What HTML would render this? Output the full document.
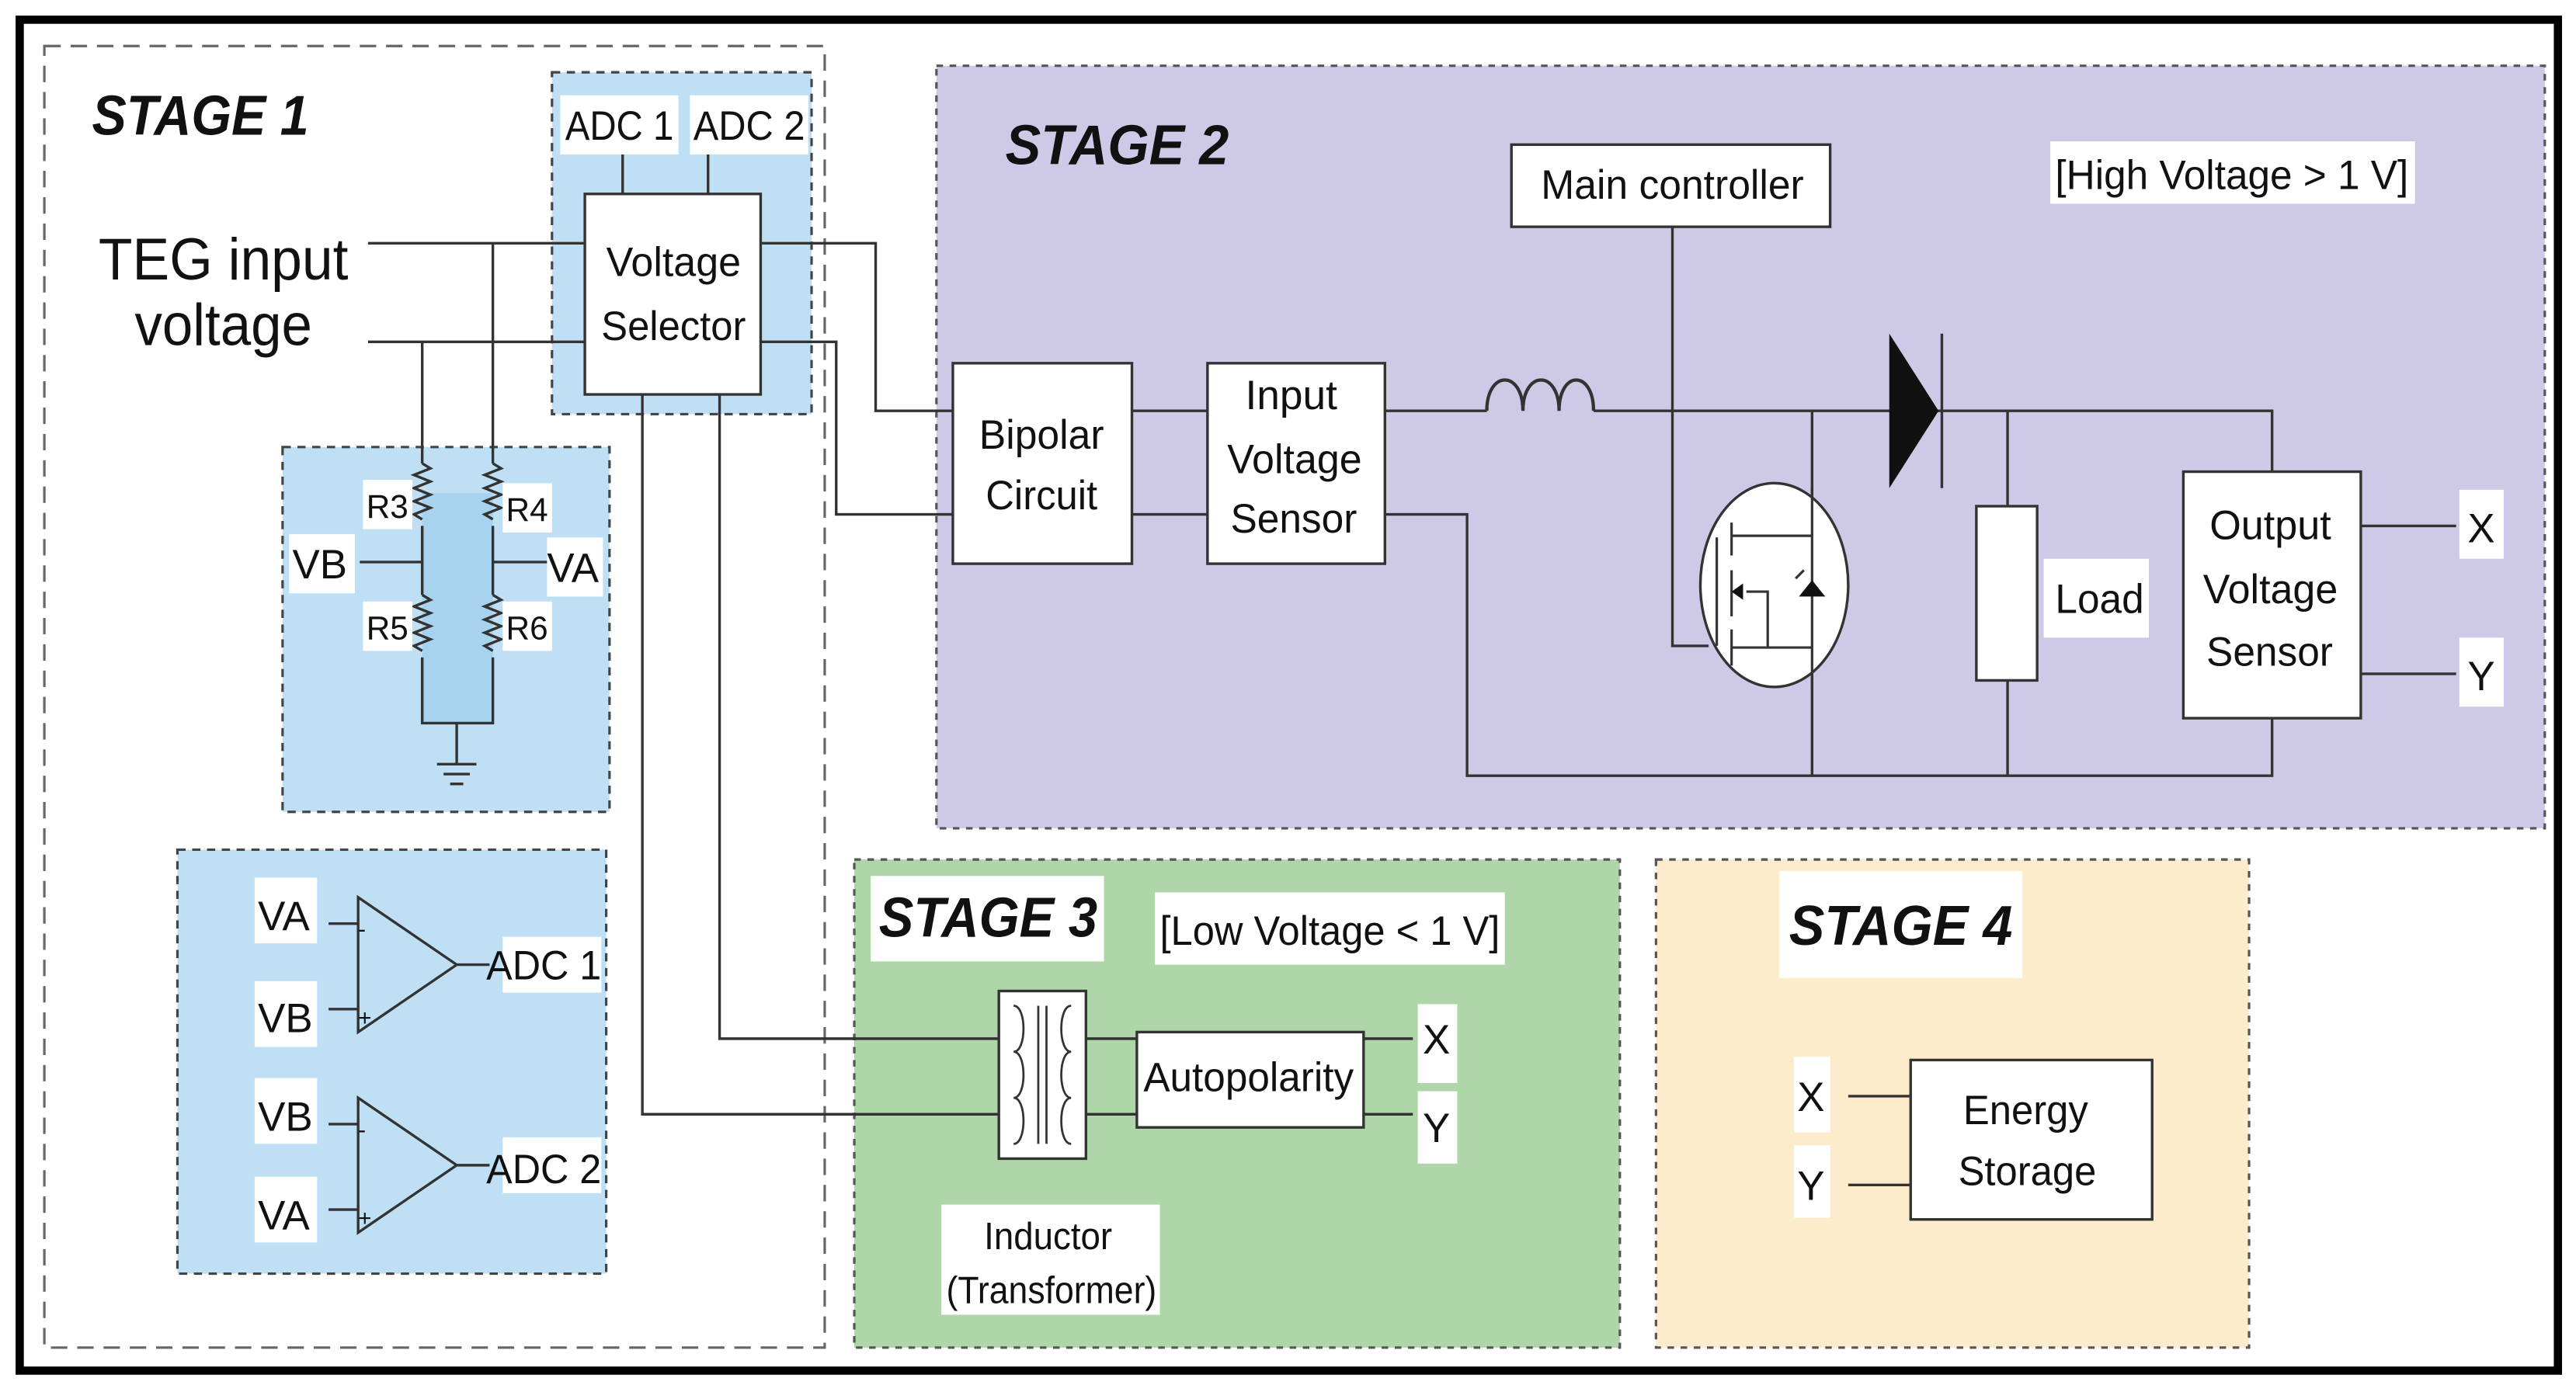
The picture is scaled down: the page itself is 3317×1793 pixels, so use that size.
<!DOCTYPE html>
<html><head><meta charset="utf-8"><style>
html,body{margin:0;padding:0;background:#fff;}
svg{display:block;}
text{font-family:"Liberation Sans",sans-serif;fill:#111;}
.st{font-weight:bold;font-style:italic;font-size:34px;}
.lb{font-size:25px;}
</style></head><body>
<svg width="3317" height="1793" viewBox="0 0 1568 847" preserveAspectRatio="none" xmlns="http://www.w3.org/2000/svg">
<rect x="0" y="0" width="1568" height="847" fill="#fff"/>
<rect x="570" y="40" width="979" height="464" fill="#cdc9e6" stroke="#555" stroke-width="1.5" stroke-dasharray="4,4"/>
<rect x="520" y="523" width="466" height="297" fill="#aed6a8" stroke="#555" stroke-width="1.5" stroke-dasharray="4,4"/>
<rect x="1008" y="523" width="361" height="297" fill="#fdeccb" stroke="#555" stroke-width="1.5" stroke-dasharray="4,4"/>
<rect x="27" y="28" width="475" height="792" fill="none" stroke="#666" stroke-width="1.5" stroke-dasharray="10,6"/>
<rect x="336" y="44" width="158" height="208" fill="#bfe0f4" stroke="#444" stroke-width="1.5" stroke-dasharray="5,4"/>
<rect x="172" y="272" width="199" height="222" fill="#bfe0f4" stroke="#444" stroke-width="1.5" stroke-dasharray="5,4"/>
<rect x="108" y="517" width="261" height="258" fill="#bfe0f4" stroke="#444" stroke-width="1.5" stroke-dasharray="5,4"/>
<rect x="257" y="300" width="43" height="140" fill="#a8d3ee"/>
<rect x="12" y="12" width="1545" height="822" fill="none" stroke="#000" stroke-width="5"/>

<g stroke="#333" stroke-width="1.6" fill="none">
<path d="M224 148H356M224 208H356"/>
<path d="M300 148V282M300 320V362M300 400V440H257V400M257 362V320M257 282V208"/>
<path d="M300 282l5 3-10 4 10 4-10 4 10 4-10 4 10 4-10 4 5 3M300 362l5 3-10 4 10 4-10 4 10 4-10 4 10 4-10 4 5 3"/>
<path d="M257 282l5 3-10 4 10 4-10 4 10 4-10 4 10 4-10 4 5 3M257 362l5 3-10 4 10 4-10 4 10 4-10 4 10 4-10 4 5 3"/>
<path d="M219 342H257M300 342H333M278 440V465M266 465H290M270 471H286M274 477H282"/>
<path d="M379 94V118M431 94V118"/>
<path d="M463 148H533V250H580M463 208H509V313H580"/>
<path d="M438 240V632H608M391 240V678H608"/>
<path d="M218 546V628L278 587Z M200 562H218M200 614H218M278 587H298"/>
<path d="M218 668V750L278 709Z M200 684H218M200 736H218M278 709H298"/>
<path d="M689 250H735M689 313H735M843 250H905M970 250H1383V287M843 313H893V472H1383V437"/>
<path d="M905 250c0-25 22-25 22 0c0-25 22-25 22 0c0-25 21-25 21 0" stroke-width="2"/>
<path d="M1018 138V393H1040M1103 250V472M1222 250V472"/>
<path d="M1437 320H1495M1437 410H1495"/>
<path d="M661 632H692M661 678H692M830 632H860M830 678H860"/>
<path d="M1125 667H1163M1125 721H1163"/>
</g>
<text x="218" y="570" style="font-size:14px">-</text><text x="218" y="624" style="font-size:14px">+</text>
<text x="218" y="692" style="font-size:14px">-</text><text x="218" y="746" style="font-size:14px">+</text>
<path d="M1150 203L1180 250L1150 297Z" fill="#111"/>
<path d="M1182 203V297" stroke="#333" stroke-width="1.6"/>
<ellipse cx="1080" cy="356" rx="45" ry="62" fill="#fff" stroke="#333" stroke-width="1.6"/>
<g stroke="#333" stroke-width="1.5" fill="none">
<path d="M1045 327V393M1054 318V338M1054 347V375M1054 383V405M1054 326H1103M1054 394H1103M1063 360H1076V394M1103 296V420"/>
<path d="M1093 352l5-5"/>
</g>
<path d="M1054 360l7-5v10z" fill="#111"/><path d="M1095 363h16l-8-10z" fill="#111"/>
<g fill="#fff">
<rect x="221" y="292" width="30" height="30"/><rect x="306" y="294" width="30" height="30"/>
<rect x="221" y="366" width="30" height="30"/><rect x="306" y="366" width="30" height="30"/>
<rect x="176" y="325" width="40" height="36"/><rect x="333" y="327" width="34" height="36"/>
<rect x="155" y="534" width="38" height="40"/><rect x="155" y="597" width="38" height="40"/>
<rect x="155" y="656" width="38" height="40"/><rect x="155" y="716" width="38" height="40"/>
<rect x="306" y="570" width="60" height="34"/><rect x="306" y="692" width="60" height="34"/>
<rect x="341" y="58" width="72" height="36"/><rect x="420" y="58" width="72" height="36"/>
<rect x="356" y="118" width="107" height="122" stroke="#333" stroke-width="1.6"/>
<rect x="580" y="221" width="109" height="122" stroke="#333" stroke-width="1.6"/>
<rect x="735" y="221" width="108" height="122" stroke="#333" stroke-width="1.6"/>
<rect x="920" y="88" width="194" height="50" stroke="#333" stroke-width="1.6"/>
<rect x="1248" y="86" width="222" height="38"/>
<rect x="1203" y="308" width="37" height="106" stroke="#333" stroke-width="1.6"/>
<rect x="1244" y="340" width="64" height="48"/>
<rect x="1329" y="287" width="108" height="150" stroke="#333" stroke-width="1.6"/>
<rect x="1497" y="298" width="27" height="42"/><rect x="1497" y="388" width="27" height="42"/>
<rect x="530" y="533" width="142" height="52"/><rect x="703" y="543" width="213" height="44"/>
<rect x="608" y="603" width="53" height="102" stroke="#333" stroke-width="1.6"/>
<rect x="692" y="628" width="138" height="58" stroke="#333" stroke-width="1.6"/>
<rect x="863" y="611" width="24" height="48"/><rect x="863" y="664" width="24" height="44"/>
<rect x="573" y="733" width="133" height="67"/>
<rect x="1083" y="530" width="148" height="65"/>
<rect x="1092" y="643" width="22" height="46"/><rect x="1092" y="697" width="22" height="44"/>
<rect x="1163" y="645" width="147" height="97" stroke="#333" stroke-width="1.6"/>
</g>
<g stroke="#333" stroke-width="1.3" fill="none">
<path d="M617 612c8 0 8 28 0 28c8 0 8 28 0 28c8 0 8 28 0 28M652 612c-8 0-8 28 0 28c-8 0-8 28 0 28c-8 0-8 28 0 28M632 612V696M637 612V696"/>
</g>
<text class="st" x="56" y="82" textLength="132" lengthAdjust="spacingAndGlyphs">STAGE 1</text>
<text class="st" x="612" y="100" textLength="136" lengthAdjust="spacingAndGlyphs">STAGE 2</text>
<text class="st" x="535" y="570" textLength="133" lengthAdjust="spacingAndGlyphs">STAGE 3</text>
<text class="st" x="1089" y="575" textLength="136" lengthAdjust="spacingAndGlyphs">STAGE 4</text>
<text x="60" y="170" style="font-size:36px" textLength="152" lengthAdjust="spacingAndGlyphs">TEG input</text>
<text x="82" y="210" style="font-size:36px" textLength="108" lengthAdjust="spacingAndGlyphs">voltage</text>
<text class="lb" x="344" y="85" textLength="66" lengthAdjust="spacingAndGlyphs">ADC 1</text><text class="lb" x="422" y="85" textLength="68" lengthAdjust="spacingAndGlyphs">ADC 2</text>
<text class="lb" x="369" y="168" textLength="82" lengthAdjust="spacingAndGlyphs">Voltage</text><text class="lb" x="366" y="207" textLength="88" lengthAdjust="spacingAndGlyphs">Selector</text>
<text x="223" y="315" style="font-size:20px">R3</text><text x="308" y="317" style="font-size:20px">R4</text>
<text x="223" y="389" style="font-size:20px">R5</text><text x="308" y="389" style="font-size:20px">R6</text>
<text class="lb" x="178" y="352">VB</text><text class="lb" x="333" y="354">VA</text>
<text class="lb" x="157" y="566">VA</text><text class="lb" x="157" y="628">VB</text>
<text class="lb" x="157" y="688">VB</text><text class="lb" x="157" y="748">VA</text>
<text class="lb" x="296" y="596" textLength="70" lengthAdjust="spacingAndGlyphs">ADC 1</text><text class="lb" x="296" y="720" textLength="70" lengthAdjust="spacingAndGlyphs">ADC 2</text>
<text class="lb" x="596" y="273" textLength="76" lengthAdjust="spacingAndGlyphs">Bipolar</text>
<text class="lb" x="600" y="310" textLength="68" lengthAdjust="spacingAndGlyphs">Circuit</text>
<text class="lb" x="758" y="249" textLength="56" lengthAdjust="spacingAndGlyphs">Input</text>
<text class="lb" x="747" y="288" textLength="82" lengthAdjust="spacingAndGlyphs">Voltage</text>
<text class="lb" x="749" y="324" textLength="77" lengthAdjust="spacingAndGlyphs">Sensor</text>
<text class="lb" x="938" y="121" textLength="160" lengthAdjust="spacingAndGlyphs">Main controller</text>
<text class="lb" x="1251" y="115" textLength="215" lengthAdjust="spacingAndGlyphs">[High Voltage &gt; 1 V]</text>
<text class="lb" x="1251" y="373" textLength="54" lengthAdjust="spacingAndGlyphs">Load</text>
<text class="lb" x="1345" y="328" textLength="74" lengthAdjust="spacingAndGlyphs">Output</text>
<text class="lb" x="1341" y="367" textLength="82" lengthAdjust="spacingAndGlyphs">Voltage</text>
<text class="lb" x="1343" y="405" textLength="77" lengthAdjust="spacingAndGlyphs">Sensor</text>
<text class="lb" x="1502" y="330">X</text><text class="lb" x="1502" y="420">Y</text>
<text class="lb" x="706" y="575" textLength="207" lengthAdjust="spacingAndGlyphs">[Low Voltage &lt; 1 V]</text>
<text class="lb" x="696" y="664" textLength="128" lengthAdjust="spacingAndGlyphs">Autopolarity</text>
<text class="lb" x="866" y="641">X</text><text class="lb" x="866" y="695">Y</text>
<text x="599" y="760" style="font-size:23px" textLength="78" lengthAdjust="spacingAndGlyphs">Inductor</text>
<text x="576" y="793" style="font-size:23px" textLength="128" lengthAdjust="spacingAndGlyphs">(Transformer)</text>
<text class="lb" x="1094" y="676">X</text><text class="lb" x="1094" y="730">Y</text>
<text class="lb" x="1195" y="684" textLength="76" lengthAdjust="spacingAndGlyphs">Energy</text>
<text class="lb" x="1192" y="721" textLength="84" lengthAdjust="spacingAndGlyphs">Storage</text>
</svg>
</body></html>
